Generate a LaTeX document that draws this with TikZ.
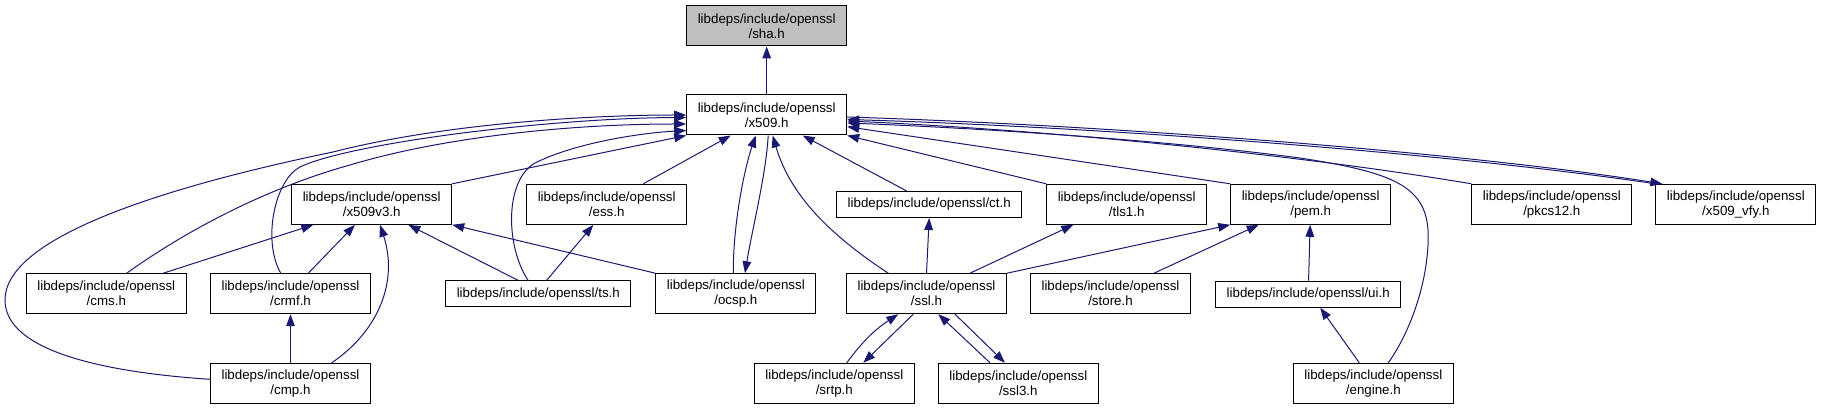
\documentclass[tikz,border=0pt]{standalone}
\usepackage{fontspec}
\setmainfont{Liberation Sans}
\usetikzlibrary{arrows.meta,calc}
\definecolor{midnightblue}{RGB}{25,25,112}
\definecolor{headergray}{RGB}{191,191,191}

\begin{document}
\begin{tikzpicture}[x=0.75pt,y=-0.75pt,
    filebox/.style={draw=black,line width=0.75pt,fill=white,align=center,
      inner sep=0pt,minimum width=120pt,minimum height=30pt,
      font=\fontsize{10}{11.25}\selectfont},
    widebox/.style={filebox,minimum width=139pt,minimum height=19.5pt},
    incl/.style={midnightblue,line width=0.75pt,
      -{Triangle[length=9pt,width=6.5pt]}}]
  \useasboundingbox (0,0) rectangle (1821,409);

  \node[filebox,fill=headergray] (sha) at (766.7,26) {libdeps/include/openssl\\/sha.h};
  \node[filebox] (x509) at (766.7,115) {libdeps/include/openssl\\/x509.h};

  \node[filebox] (x509v3) at (371.7,204.3) {libdeps/include/openssl\\/x509v3.h};
  \node[filebox] (ess) at (606.7,204.3) {libdeps/include/openssl\\/ess.h};
  \node[widebox] (ct) at (929.2,204.5) {libdeps/include/openssl/ct.h};
  \node[filebox] (tls1) at (1126.7,204.3) {libdeps/include/openssl\\/tls1.h};
  \node[filebox] (pem) at (1310.7,204.3) {libdeps/include/openssl\\/pem.h};
  \node[filebox] (pkcs12) at (1551.8,204.3) {libdeps/include/openssl\\/pkcs12.h};
  \node[filebox] (x509vfy) at (1735.8,204.3) {libdeps/include/openssl\\/x509\_vfy.h};

  \node[filebox] (cms) at (106.3,293.7) {libdeps/include/openssl\\/cms.h};
  \node[filebox] (crmf) at (290.5,293.7) {libdeps/include/openssl\\/crmf.h};
  \node[widebox] (ts) at (538.3,293.8) {libdeps/include/openssl/ts.h};
  \node[filebox] (ocsp) at (735.8,293.7) {libdeps/include/openssl\\/ocsp.h};
  \node[filebox] (ssl) at (926.5,293.7) {libdeps/include/openssl\\/ssl.h};
  \node[filebox] (store) at (1110.5,293.7) {libdeps/include/openssl\\/store.h};
  \node[widebox] (ui) at (1308.2,294.2) {libdeps/include/openssl/ui.h};

  \node[filebox] (cmp) at (290.5,383.3) {libdeps/include/openssl\\/cmp.h};
  \node[filebox] (srtp) at (834.3,383.3) {libdeps/include/openssl\\/srtp.h};
  \node[filebox] (ssl3) at (1018.3,383.3) {libdeps/include/openssl\\/ssl3.h};
  \node[filebox] (engine) at (1373.3,383.3) {libdeps/include/openssl\\/engine.h};

  \draw[incl] (x509) -- (sha);

  \draw[incl] (x509v3.north east) -- (x509.south west);
  \draw[incl] ($(ess.north)+(36.6,0)$) -- ($(x509.south)+(-36,0)$);
  \draw[incl] ($(ct.north)+(-22.5,0)$) -- ($(x509.south)+(36,0)$);
  \draw[incl] (tls1.north west) -- (x509.south east);
  \draw[incl] (pem.north west) -- ($(x509.east)+(0,11.7)$);
  \draw[incl] (pkcs12.north west) .. controls (1300,155) and (1050,130)
    .. ($(x509.east)+(0,6)$);
  \draw[incl] (x509vfy.north west) .. controls (1450,153) and (1100,127)
    .. ($(x509.east)+(0,4.5)$);
  \draw[incl] ($(x509.east)+(0,2)$) .. controls (1100,125) and (1455,151)
    .. ($(x509vfy.north west)+(7,0)$);
  \draw[incl] ($(engine.north)+(15,0)$) .. controls (1415,325) and (1430,270) .. (1428,230)
    .. controls (1425,185) and (1390,172) .. (1300,158)
    .. controls (1150,138) and (950,127) .. ($(x509.east)+(0,8)$);

  \draw[incl] ($(cmp.west)+(0,-4)$) .. controls (100,372) and (5,350) .. (5,300)
    .. controls (5,240) and (150,190) .. (333,152)
    .. controls (450,122) and (600,115) .. (x509.west);
  \draw[incl] ($(cms.north)+(20.4,0)$) .. controls (180,235) and (260,190) .. (350,165)
    .. controls (450,135) and (580,124) .. ($(x509.west)+(0,9)$);
  \draw[incl] ($(crmf.north)+(-9.8,0)$) .. controls (262,240) and (275,180) .. (300,167)
    .. controls (350,143) and (550,118) .. ($(x509.west)+(0,2.5)$);
  \draw[incl] ($(ts.north)+(-10.3,0)$) .. controls (505,245) and (505,180) .. (535,163)
    .. controls (575,143) and (640,133) .. ($(x509.west)+(0,15.5)$);

  \draw[incl] ($(cms.north)+(57,0)$) -- ($(x509v3.south)+(-58.4,0)$);
  \draw[incl] ($(crmf.north)+(17.8,0)$) -- ($(x509v3.south)+(-16.7,0)$);
  \draw[incl] ($(cmp.north)+(41.2,0)$) .. controls (380,330) and (398,280)
    .. ($(x509v3.south)+(8.3,0)$);
  \draw[incl] ($(ts.north)+(-20.3,0)$) -- ($(x509v3.south)+(36.6,0)$);
  \draw[incl] (ocsp.north west) -- (x509v3.south east);
  \draw[incl] ($(ts.north)+(8.4,0)$) -- ($(ess.south)+(-13.4,0)$);
  \draw[incl] (cmp) -- (crmf);

  \draw[incl] ($(ocsp.north)+(-2.5,0)$) .. controls (733,225) and (744,170)
    .. ($(x509.south)+(-11,0)$);
  \draw[incl] ($(x509.south)+(1.5,0)$) .. controls (766,175) and (752,230)
    .. ($(ocsp.north)+(9.2,0)$);
  \draw[incl] ($(ssl.north)+(-38.2,0)$) .. controls (830,235) and (790,195)
    .. ($(x509.south)+(6,0)$);

  \draw[incl] (ssl.north) -- (ct.south);
  \draw[incl] ($(ssl.north)+(43.5,0)$) -- ($(tls1.south)+(-53.4,0)$);
  \draw[incl] (ssl.north east) -- (pem.south west);
  \draw[incl] ($(store.north)+(43.5,0)$) -- ($(pem.south)+(-52,0)$);
  \draw[incl] (ui) -- (pem);
  \draw[incl] ($(engine.north)+(-14,0)$) -- ($(ui.south)+(12,0)$);

  \draw[incl] ($(srtp.north)+(12.4,0)$) to[bend left=10] ($(ssl.south)+(-28.2,0)$);
  \draw[incl] ($(ssl.south)+(-13.2,0)$) -- ($(srtp.north)+(29,0)$);
  \draw[incl] ($(ssl3.north)+(-28.3,0)$) -- ($(ssl.south)+(11.8,0)$);
  \draw[incl] ($(ssl.south)+(28.5,0)$) -- ($(ssl3.north)+(-13.3,0)$);
\end{tikzpicture}
\end{document}
